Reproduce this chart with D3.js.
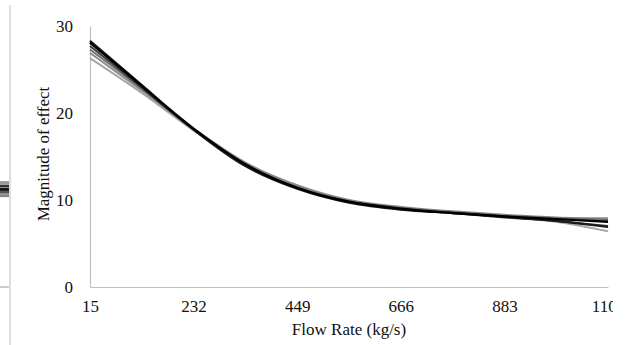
<!DOCTYPE html>
<html>
<head>
<meta charset="utf-8">
<script src="https://cdn.jsdelivr.net/npm/d3@7"></script>
<style>
  body { margin: 0; background: #fff; }
  text { font-family: "Liberation Serif", "Times New Roman", serif; fill: #111; }
</style>
</head>
<body>
<svg id="chart" width="630" height="345"></svg>
<script>
// flow rates sampled along the curves (kg/s)
const flowRates = [15, 123.5, 232, 340.5, 449, 557.5, 666, 774.5, 883, 991.5, 1100];
const xTicks = [15, 232, 449, 666, 883, 1100];
const yTicks = [0, 10, 20, 30];

// magnitude of effect, one array per run
const runA = [28.1, 23.1, 18.2, 14.1, 11.4, 9.8, 9.0, 8.5, 8.1, 7.8, 7.5];
const runB = [27.7, 22.9, 18.1, 14.0, 11.4, 9.8, 9.0, 8.5, 8.0, 7.6, 7.0];
const runC = [26.9, 22.6, 18.2, 14.3, 11.7, 10.0, 9.2, 8.7, 8.3, 8.0, 7.9];
const runD = [26.3, 22.3, 18.0, 14.2, 11.6, 9.9, 9.1, 8.6, 8.1, 7.5, 6.4];
const runE = [28.3, 23.2, 18.1, 13.9, 11.3, 9.7, 8.9, 8.5, 8.1, 7.6, 6.9];
const runF = [27.3, 22.8, 18.1, 14.1, 11.5, 9.9, 9.1, 8.6, 8.2, 7.9, 7.7];

// tail end of the neighbouring panel on the left
const neighborX = [0, 1];
const neighborRuns = [[12.0, 12.0], [11.6, 11.6], [11.2, 11.2], [10.9, 10.9], [10.5, 10.5]];

const series = [
  { values: runD, color: "#a6a6a6", width: 2 },
  { values: runC, color: "#8c8c8c", width: 2 },
  { values: runF, color: "#6e6e6e", width: 2 },
  { values: runB, color: "#404040", width: 2 },
  { values: runE, color: "#1a1a1a", width: 2.2 },
  { values: runA, color: "#000000", width: 2.4 }
];

const svg = d3.select("#chart");

svg.append("defs").append("clipPath").attr("id", "crop")
  .append("rect").attr("x", 0).attr("y", 0).attr("width", 613).attr("height", 345);

const root = svg.append("g").attr("clip-path", "url(#crop)");

const x = d3.scaleLinear().domain([15, 1100]).range([90, 608]);
const y = d3.scaleLinear().domain([0, 30]).range([287, 26]);

// neighbour panel fragment
const nx = d3.scaleLinear().domain([0, 1]).range([0, 9]);
root.append("line")
  .attr("x1", 10).attr("x2", 10).attr("y1", 5).attr("y2", 345)
  .attr("stroke", "#c8c8c8").attr("stroke-width", 1.2);
root.append("line")
  .attr("x1", 0).attr("x2", 9).attr("y1", y(0)).attr("y2", y(0))
  .attr("stroke", "#999").attr("stroke-width", 1);
root.append("g").selectAll("path")
  .data(neighborRuns)
  .join("path")
  .attr("fill", "none")
  .attr("stroke", (d, i) => ["#999", "#333", "#111", "#555", "#888"][i])
  .attr("stroke-width", 3)
  .attr("d", d => d3.line().x((v, i) => nx(neighborX[i])).y(v => y(v))(d));

// axes
const yAxis = root.append("g")
  .attr("transform", "translate(90,0)")
  .call(d3.axisLeft(y).tickValues(yTicks).tickSize(0).tickPadding(17));
const xAxis = root.append("g")
  .attr("transform", `translate(0,${y(0)})`)
  .call(d3.axisBottom(x).tickValues(xTicks).tickFormat(d3.format("d")).tickSize(0).tickPadding(13));

[xAxis, yAxis].forEach(a => {
  a.select(".domain").attr("stroke", "#bfbfbf").attr("stroke-width", 1.2);
  a.selectAll("text")
    .style("font-family", "'Liberation Serif', serif")
    .style("font-size", "17px")
    .attr("fill", "#111");
});

// curves
const line = d3.line()
  .x((v, i) => x(flowRates[i]))
  .y(v => y(v))
  .curve(d3.curveMonotoneX);

root.append("g").selectAll("path")
  .data(series)
  .join("path")
  .attr("fill", "none")
  .attr("stroke", d => d.color)
  .attr("stroke-width", d => d.width)
  .attr("d", d => line(d.values));

// axis titles
root.append("text")
  .attr("transform", "translate(49,154) rotate(-90)")
  .attr("text-anchor", "middle")
  .style("font-size", "17px")
  .text("Magnitude of effect");

root.append("text")
  .attr("x", 349).attr("y", 335)
  .attr("text-anchor", "middle")
  .style("font-size", "17px")
  .text("Flow Rate (kg/s)");
</script>
</body>
</html>
